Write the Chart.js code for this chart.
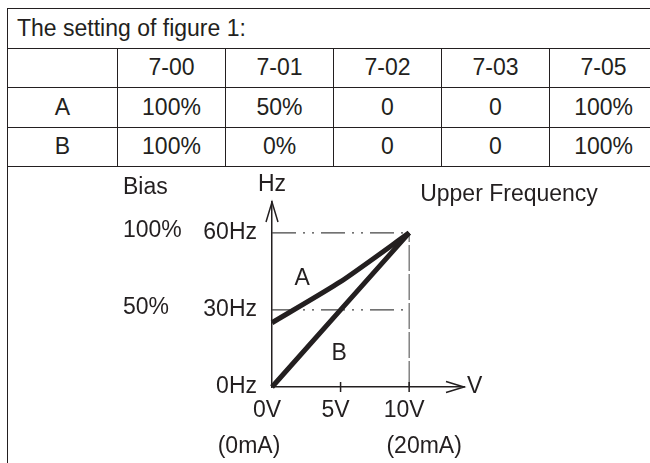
<!DOCTYPE html>
<html>
<head>
<meta charset="utf-8">
<script src="https://cdn.jsdelivr.net/npm/chart.js@4.4.0/dist/chart.umd.min.js"></script>
<style>
html, body { margin: 0; padding: 0; width: 650px; height: 463px; overflow: hidden; background: #fff; }
body { position: relative; font-family: "Liberation Sans", Arial, sans-serif; color: #231f20; }
#tabela { position: absolute; left: 7px; top: 8px; border-collapse: collapse; table-layout: fixed; width: 651px; font-size: 23px; }
#tabela td { border: 1px solid #231f20; text-align: center; padding: 0; height: 38.5px; white-space: nowrap; }
#tabela td.titulo { text-align: left; padding-left: 9px; }
#borda { position: absolute; left: 7px; top: 166px; height: 297px; border-left: 1px solid #231f20; }
#grafico { position: absolute; left: 0; top: 0; }
</style>
</head>
<body>
<table id="tabela">
  <colgroup><col style="width:110px"><col style="width:108px"><col style="width:108px"><col style="width:108px"><col style="width:108px"><col style="width:108px"></colgroup>
  <tbody></tbody>
</table>
<div id="borda"></div>
<canvas id="grafico" width="650" height="463"></canvas>
<script>
/* tabela de ajuste */
const titulo = 'The setting of figure 1:'
const parametros = ['7-00', '7-01', '7-02', '7-03', '7-05']
const ajusteA = ['100%', '50%', '0', '0', '100%']
const ajusteB = ['100%', '0%', '0', '0', '100%']

/* grafico */
const tensao = [0, 5, 10]
const freqA = [25, 41, 60]
const freqB = [0, 30, 60]
const rotulosX = ['0V', '5V', '10V']
const rotulosMA = ['(0mA)', '', '(20mA)']
const valoresY = [0, 30, 60]
const rotulosY = ['0Hz', '30Hz', '60Hz']
const rotulosBias = ['', '50%', '100%']
const freqSuperior = 60
const freqMeio = 30
const tensaoMax = 10

const cor = '#231f20'
const fonte = '"Liberation Sans", Arial, sans-serif'

function montarTabela() {
    let corpo = document.querySelector('#tabela tbody')
    let linhas = [[''].concat(parametros), ['A'].concat(ajusteA), ['B'].concat(ajusteB)]

    let tr = document.createElement('tr')
    let td = document.createElement('td')
    td.colSpan = 6
    td.className = 'titulo'
    td.textContent = titulo
    tr.appendChild(td)
    corpo.appendChild(tr)

    linhas.forEach(linha => {
        let tr = document.createElement('tr')
        linha.forEach(valor => {
            let td = document.createElement('td')
            td.textContent = valor
            tr.appendChild(td)
        })
        corpo.appendChild(tr)
    })
}

const anotacoes = {
    id: 'anotacoes',
    afterDatasetsDraw(chart) {
        const ctx = chart.ctx
        const area = chart.chartArea
        const x = chart.scales.x
        const y = chart.scales.y
        ctx.save()
        ctx.strokeStyle = cor
        ctx.lineWidth = 1.5
        ctx.beginPath()
        // seta do eixo Hz
        ctx.moveTo(area.left - 6, area.top + 20)
        ctx.lineTo(area.left, area.top)
        ctx.lineTo(area.left + 6, area.top + 20)
        // seta do eixo V
        ctx.moveTo(area.right - 18, area.bottom - 5.5)
        ctx.lineTo(area.right, area.bottom)
        ctx.lineTo(area.right - 18, area.bottom + 5.5)
        // marcas 5V e 10V
        tensao.forEach(v => {
            if (v > 0) {
                let px = x.getPixelForValue(v)
                ctx.moveTo(px, area.bottom - 5)
                ctx.lineTo(px, area.bottom + 5)
            }
        })
        ctx.stroke()

        ctx.fillStyle = cor
        ctx.font = '23px ' + fonte
        ctx.textBaseline = 'middle'
        let x0 = x.getPixelForValue(0)
        let esquerda = x0 - 149

        ctx.textAlign = 'left'
        ctx.fillText('Bias', esquerda, area.top - 14)
        rotulosBias.forEach((r, i) => {
            if (r) ctx.fillText(r, esquerda, y.getPixelForValue(valoresY[i]) - 2)
        })
        ctx.fillText('Upper Frequency', x.getPixelForValue(tensaoMax) + 11, area.top - 7)
        ctx.fillText('V', area.right + 3, area.bottom)

        ctx.textAlign = 'center'
        ctx.fillText('Hz', x0, area.top - 17)
        ctx.fillText('A', x.getPixelForValue(2.2), y.getPixelForValue(42))
        ctx.fillText('B', x.getPixelForValue(4.9), y.getPixelForValue(13))
        const desloc = [-23, 0, 15]
        rotulosMA.forEach((r, i) => {
            if (r) ctx.fillText(r, x.getPixelForValue(tensao[i]) + desloc[i], area.bottom + 60)
        })
        ctx.restore()
    }
}

function grafico() {
    const pontosA = Array.from({ length: tensao.length }, (item, i) => {
        return { x: tensao[i], y: freqA[i] }
    })
    const pontosB = Array.from({ length: tensao.length }, (item, i) => {
        return { x: tensao[i], y: freqB[i] }
    })
    const linha60 = [{ x: tensao[0], y: freqSuperior }, { x: tensaoMax, y: freqSuperior }]
    const linha30 = [{ x: tensao[0], y: freqMeio }, { x: tensaoMax, y: freqMeio }]
    const linha10V = [{ x: tensaoMax, y: 0 }, { x: tensaoMax, y: freqSuperior }]

    const tracejado = [24, 7, 2, 7, 2, 7]

    const data = {
        datasets: [
            { label: 'A', data: pontosA, borderColor: cor, borderWidth: 5, tension: 0.2, pointRadius: 0, clip: false },
            { label: 'B', data: pontosB, borderColor: cor, borderWidth: 5, pointRadius: 0, clip: false },
            { label: '60Hz', data: linha60, borderColor: '#444', borderWidth: 1.2, borderDash: tracejado, pointRadius: 0 },
            { label: '30Hz', data: linha30, borderColor: '#444', borderWidth: 1.2, borderDash: tracejado, pointRadius: 0 },
            { label: '10V', data: linha10V, borderColor: '#444', borderWidth: 1, borderDash: [26, 3], pointRadius: 0 }
        ]
    }

    Chart.defaults.font.family = fonte
    Chart.defaults.font.size = 23
    Chart.defaults.color = cor

    const config = {
        type: 'line',
        data: data,
        options: {
            responsive: false,
            animation: false,
            devicePixelRatio: 1,
            layout: { padding: { left: 192, top: 202, right: 186, bottom: 6 } },
            plugins: { legend: { display: false }, tooltip: { enabled: false } },
            scales: {
                x: {
                    type: 'linear', min: 0, max: 14,
                    grid: { display: false, drawTicks: false },
                    border: { display: true, color: cor, width: 1.5 },
                    afterBuildTicks: s => { s.ticks = tensao.map(v => ({ value: v })) },
                    ticks: { callback: (v, i) => rotulosX[i], padding: 10, labelOffset: -5, maxRotation: 0, autoSkip: false },
                    afterFit: s => { s.height = 70 }
                },
                y: {
                    type: 'linear', min: 0, max: 72,
                    grid: { display: false, drawTicks: false },
                    border: { display: true, color: cor, width: 1.5 },
                    afterBuildTicks: s => { s.ticks = valoresY.map(v => ({ value: v })) },
                    ticks: { callback: (v, i) => rotulosY[i], padding: 15, autoSkip: false },
                    afterFit: s => { s.width = 80 }
                }
            }
        },
        plugins: [anotacoes]
    }

    let graf = document.querySelector('#grafico').getContext('2d')
    let myChart = new Chart(graf, config)
}

montarTabela()
grafico()
</script>
</body>
</html>
